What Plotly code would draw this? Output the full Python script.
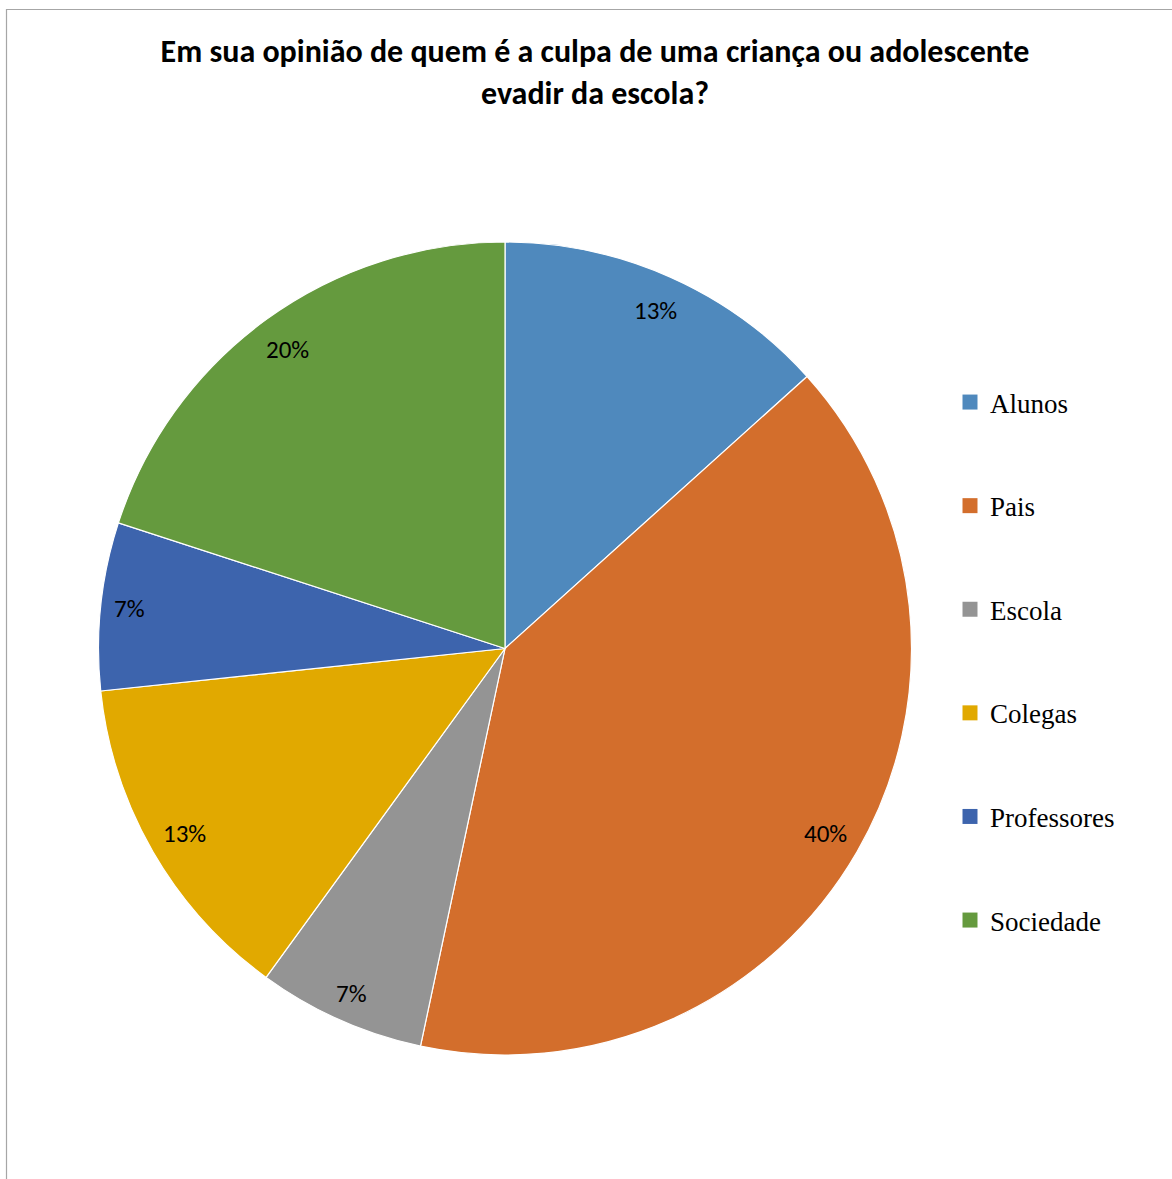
import math
import plotly.graph_objects as go

# ---- data ----
categories = ["Alunos", "Pais", "Escola", "Colegas", "Professores", "Sociedade"]
values = [2, 6, 1, 2, 1, 3]
colors = ["#4F89BD", "#D36E2C", "#949494", "#E1A900", "#3D64AD", "#659A3E"]
title_text = "Em sua opinião de quem é a culpa de uma criança ou adolescente<br>evadir da escola?"

W, H = 1172, 1179
cx, cy, R = 505, 648.5, 406.5  # pixel layout of pie

fig = go.Figure()
fig.add_trace(go.Pie(
    labels=categories, values=values, sort=False, direction="clockwise", rotation=0,
    marker=dict(colors=colors, line=dict(color="white", width=1.2)),
    textinfo="none", hoverinfo="label+percent", showlegend=False,
    domain=dict(x=[(cx - R) / W, (cx + R) / W], y=[1 - (cy + R) / H, 1 - (cy - R) / H]),
))

# legend entries (one per category)
for name, col in zip(categories, colors):
    fig.add_trace(go.Scatter(
        x=[None], y=[None], mode="markers", name=name, legendgroup=name,
        marker=dict(symbol="square", size=15, color=col),
    ))

# percentage labels placed at slice mid-angle
total = sum(values)
cum = 0
for v in values:
    mid = (cum + v / 2) / total * 2 * math.pi
    cum += v
    r = (0.93 if v / total < 0.1 else 0.91) * R
    px = cx + r * math.sin(mid)
    py = cy - r * math.cos(mid)
    fig.add_annotation(
        x=px / W, y=1 - py / H, xref="paper", yref="paper",
        xanchor="center", yanchor="middle",
        text=f"{round(v / total * 100)}%", showarrow=False,
        font=dict(family="Carlito, Lato, sans-serif", size=25, color="black"),
    )

fig.update_layout(
    width=W, height=H, margin=dict(l=0, r=0, t=0, b=0),
    paper_bgcolor="white", plot_bgcolor="white",
    xaxis=dict(visible=False), yaxis=dict(visible=False),
    title=dict(text=title_text, x=595 / W, xanchor="center", y=1 - 62 / H, yanchor="middle",
               font=dict(family="Carlito, Lato, sans-serif", size=32, color="black", weight="bold")),
    legend=dict(x=950 / W, xanchor="left", y=1 - 378 / H, yanchor="top",
                font=dict(family="Liberation Serif, Times New Roman, serif", size=27, color="black"),
                tracegroupgap=65.5, bgcolor="rgba(0,0,0,0)"),
    shapes=[dict(type="rect", xref="paper", yref="paper",
                 x0=6.5 / W, x1=1.02, y0=-0.02, y1=1 - 9.5 / H,
                 line=dict(color="#A6A6A6", width=1.2), fillcolor="rgba(0,0,0,0)")],
)

fig.write_html("out.html")
